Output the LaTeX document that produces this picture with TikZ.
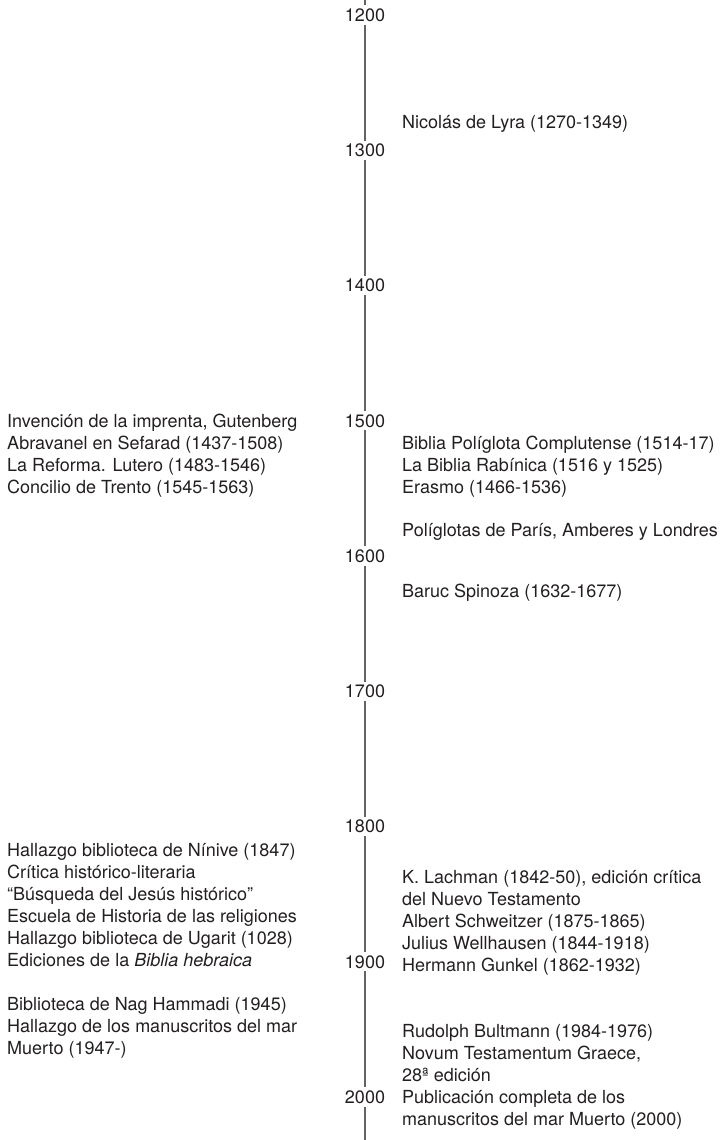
\documentclass[tikz,border=0pt]{standalone}
\usepackage{fontspec}
\setmainfont{TeX Gyre Heros}
\definecolor{txt}{HTML}{231F20}
\definecolor{axiscol}{HTML}{626366}
\begin{document}
\begin{tikzpicture}[x=1pt,y=-1pt,
  every node/.style={text=txt,font=\fontsize{18}{22}\selectfont,inner sep=0pt},
  yearlabel/.style={fill=white,inner xsep=0pt,inner ysep=3pt},
  entry/.style={anchor=base west},
  axisline/.style={draw=axiscol,line width=1.2pt}]
\useasboundingbox (0,0) rectangle (723,1140);
% axis
\coordinate (top) at (365,0);
\coordinate (bot) at (365,1140);
\node[yearlabel] (y1200) at (365,15) {1200};
\node[yearlabel] (y1300) at (365,150.25) {1300};
\node[yearlabel] (y1400) at (365,285.5) {1400};
\node[yearlabel] (y1500) at (365,420.75) {1500};
\node[yearlabel] (y1600) at (365,556) {1600};
\node[yearlabel] (y1700) at (365,691.25) {1700};
\node[yearlabel] (y1800) at (365,826.5) {1800};
\node[yearlabel] (y1900) at (365,961.75) {1900};
\node[yearlabel] (y2000) at (365,1097) {2000};
\draw[axisline] (top) -- (y1200);
\draw[axisline] (y1200) -- (y1300);
\draw[axisline] (y1300) -- (y1400);
\draw[axisline] (y1400) -- (y1500);
\draw[axisline] (y1500) -- (y1600);
\draw[axisline] (y1600) -- (y1700);
\draw[axisline] (y1700) -- (y1800);
\draw[axisline] (y1800) -- (y1900);
\draw[axisline] (y1900) -- (y2000);
\draw[axisline] (y2000) -- (bot);
% right column
\node[entry] (r1) at (402,128.5) {Nicolás de Lyra (1270-1349)};
\node[entry] (r2) at (402,449.5) {Biblia Políglota Complutense (1514-17)};
\node[entry] (r3) at (402,471.5) {La Biblia Rabínica (1516 y 1525)};
\node[entry] (r4) at (402,493.5) {Erasmo (1466-1536)};
\node[entry] (r5) at (402,536.5) {Políglotas de París, Amberes y Londres};
\node[entry] (r6) at (402,597.5) {Baruc Spinoza (1632-1677)};
\node[entry] (r7) at (402,883.5) {K. Lachman (1842-50), edición crítica};
\node[entry] (r8) at (402,905.5) {del Nuevo Testamento};
\node[entry] (r9) at (402,927.5) {Albert Schweitzer (1875-1865)};
\node[entry] (r10) at (402,949.5) {Julius Wellhausen (1844-1918)};
\node[entry] (r11) at (402,971.5) {Hermann Gunkel (1862-1932)};
\node[entry] (r12) at (402,1037.5) {Rudolph Bultmann (1984-1976)};
\node[entry] (r13) at (402,1059.5) {Novum Testamentum Graece,};
\node[entry] (r14) at (402,1081.5) {28ª edición};
\node[entry] (r15) at (402,1103.5) {Publicación completa de los};
\node[entry] (r16) at (402,1125.5) {manuscritos del mar Muerto (2000)};
% left column
\node[entry] (l1) at (7,427.5) {Invención de la imprenta, Gutenberg};
\node[entry] (l2) at (7,449.5) {Abravanel en Sefarad (1437-1508)};
\node[entry] (l3) at (7,471.5) {La Reforma. Lutero (1483-1546)};
\node[entry] (l4) at (7,493.5) {Concilio de Trento (1545-1563)};
\node[entry] (l5) at (7,856.5) {Hallazgo biblioteca de Nínive (1847)};
\node[entry] (l6) at (7,878.5) {Crítica histórico-literaria};
\node[entry] (l7) at (7,900.5) {“Búsqueda del Jesús histórico”};
\node[entry] (l8) at (7,922.5) {Escuela de Historia de las religiones};
\node[entry] (l9) at (7,944.5) {Hallazgo biblioteca de Ugarit (1028)};
\node[entry] (l10) at (7,966.5) {Ediciones de la \textit{Biblia hebraica}};
\node[entry] (l11) at (7,1010.5) {Biblioteca de Nag Hammadi (1945)};
\node[entry] (l12) at (7,1032.5) {Hallazgo de los manuscritos del mar};
\node[entry] (l13) at (7,1054.5) {Muerto (1947-)};
\end{tikzpicture}
\end{document}
